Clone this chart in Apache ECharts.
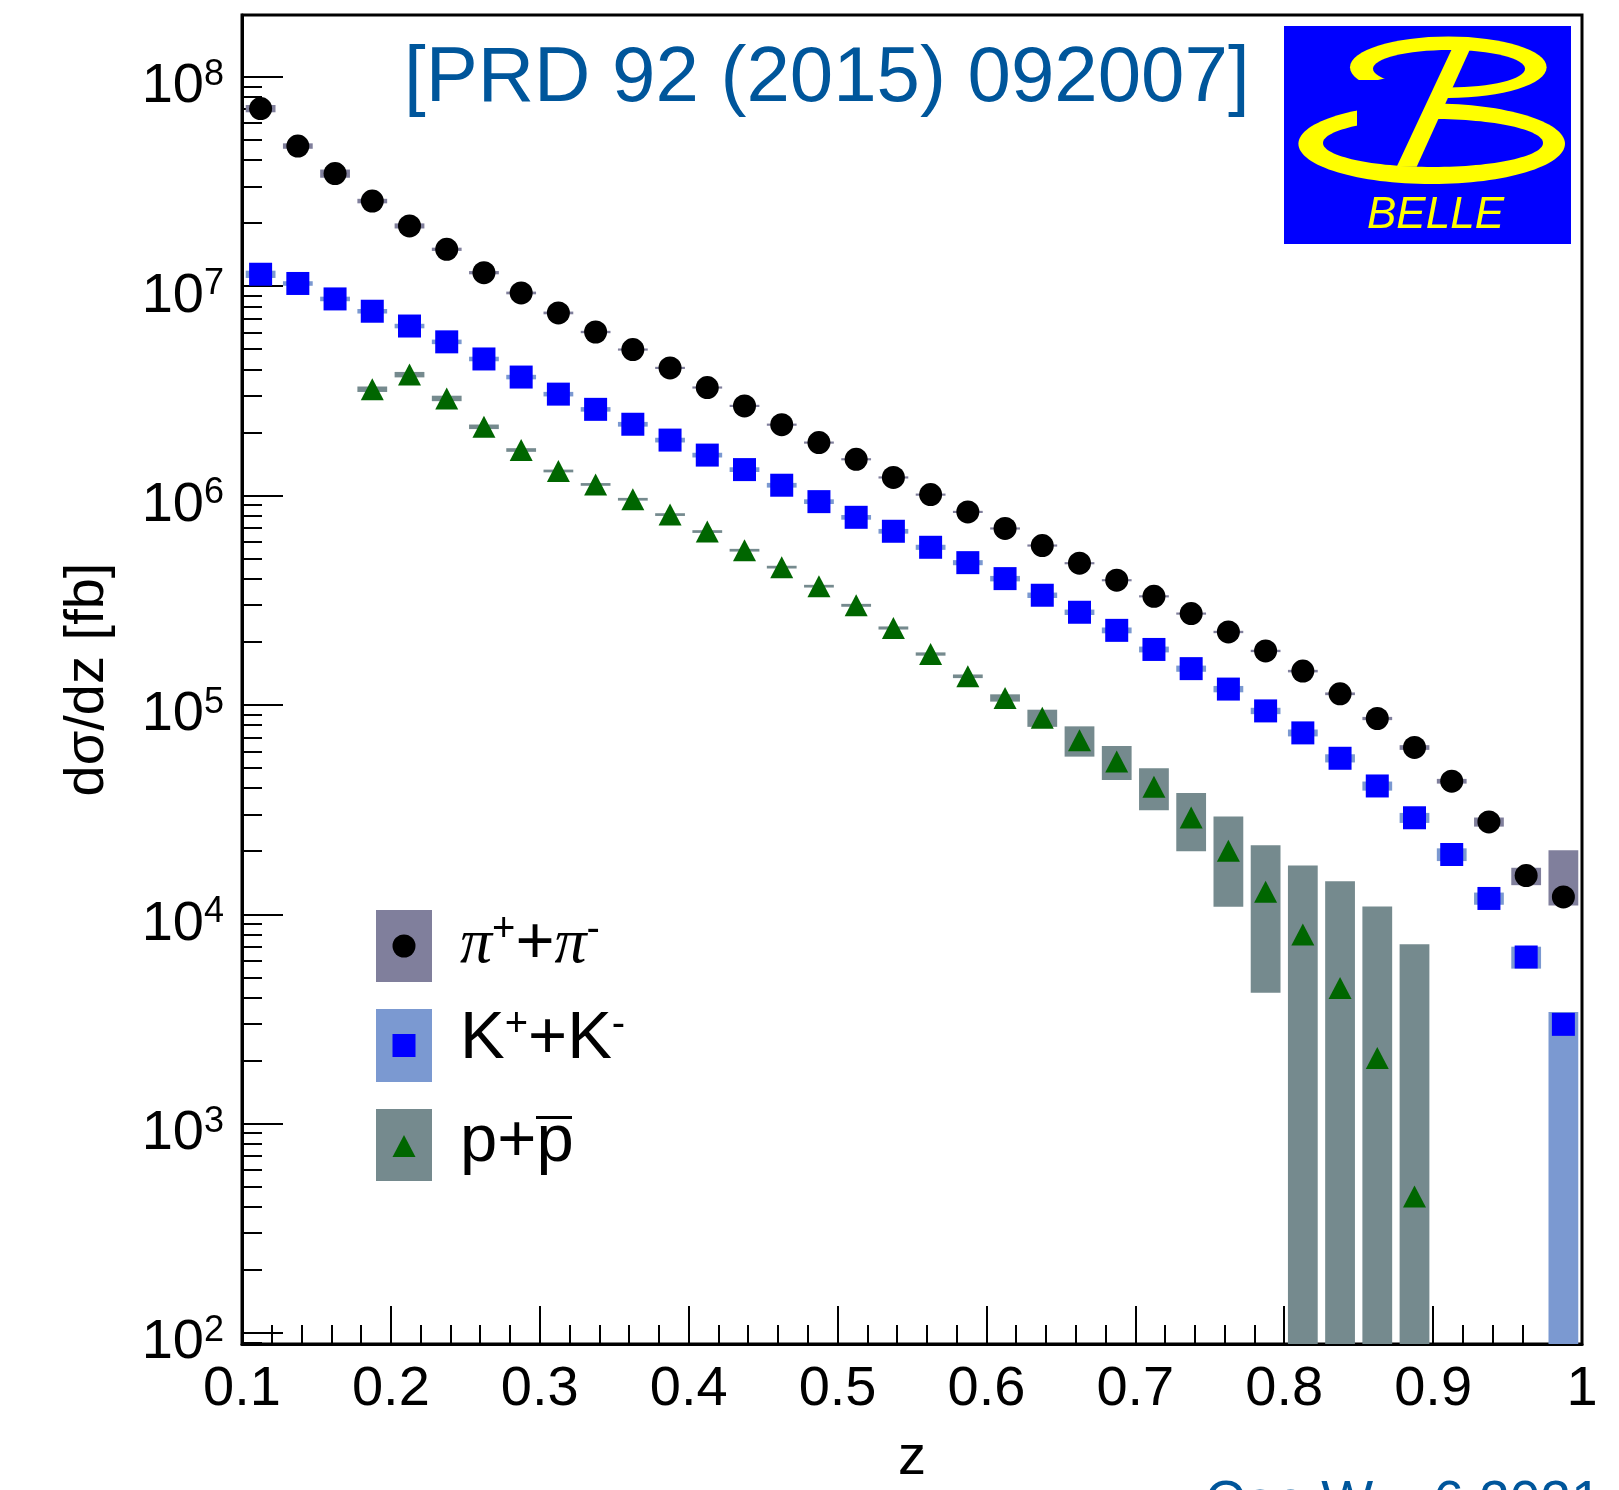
<!DOCTYPE html>
<html>
<head>
<meta charset="utf-8">
<script src="https://cdn.jsdelivr.net/npm/echarts@6/dist/echarts.min.js"></script>
<style>
  html, body { margin: 0; padding: 0; background: #ffffff; }
  #chart { width: 1619px; height: 1490px; }
</style>
</head>
<body>
<div id="chart"></div>
<script>
// z bin centres (bins of width 0.025 from 0.1 to 1.0)
const zBins = [0.1125, 0.1375, 0.1625, 0.1875, 0.2125, 0.2375, 0.2625, 0.2875, 0.3125, 0.3375,
               0.3625, 0.3875, 0.4125, 0.4375, 0.4625, 0.4875, 0.5125, 0.5375, 0.5625, 0.5875,
               0.6125, 0.6375, 0.6625, 0.6875, 0.7125, 0.7375, 0.7625, 0.7875, 0.8125, 0.8375,
               0.8625, 0.8875, 0.9125, 0.9375, 0.9625, 0.9875];

// dσ/dz in fb
const pionXsec = [7.05e7, 4.67e7, 3.45e7, 2.55e7, 1.94e7, 1.50e7, 1.16e7, 9.28e6, 7.45e6, 6.04e6,
                  4.98e6, 4.07e6, 3.28e6, 2.68e6, 2.18e6, 1.79e6, 1.49e6, 1.22e6, 1.01e6, 8.35e5,
                  6.96e5, 5.77e5, 4.75e5, 3.94e5, 3.30e5, 2.73e5, 2.23e5, 1.81e5, 1.45e5, 1.13e5,
                  8.61e4, 6.26e4, 4.32e4, 2.76e4, 1.53e4, 1.21e4];
const kaonXsec = [1.14e7, 1.03e7, 8.69e6, 7.59e6, 6.45e6, 5.42e6, 4.49e6, 3.68e6, 3.05e6, 2.58e6,
                  2.19e6, 1.84e6, 1.56e6, 1.33e6, 1.12e6, 9.35e5, 7.87e5, 6.75e5, 5.66e5, 4.78e5,
                  4.01e5, 3.34e5, 2.77e5, 2.27e5, 1.84e5, 1.49e5, 1.19e5, 9.36e4, 7.35e4, 5.56e4,
                  4.10e4, 2.89e4, 1.93e4, 1.19e4, 6.25e3, 2.98e3];
const protonXsec = [null, null, null, 3.22e6, 3.78e6, 2.91e6, 2.13e6, 1.65e6, 1.31e6, 1.13e6,
                    9.60e5, 8.11e5, 6.73e5, 5.48e5, 4.55e5, 3.69e5, 2.99e5, 2.33e5, 1.75e5, 1.37e5,
                    1.08e5, 8.67e4, 6.78e4, 5.37e4, 4.06e4, 2.90e4, 2.01e4, 1.28e4, 8.0e3, 4.44e3,
                    2.06e3, 449, null, null, null, null];

// systematic uncertainties, relative to the central value (upper / lower)
const pionSysUp = [0.040, 0.030, 0.045, 0.025, 0.028, 0.018, 0.018, 0.015, 0.015, 0.013,
                   0.012, 0.012, 0.012, 0.012, 0.012, 0.012, 0.012, 0.012, 0.012, 0.012,
                   0.012, 0.012, 0.012, 0.012, 0.012, 0.012, 0.013, 0.013, 0.014, 0.015,
                   0.018, 0.026, 0.026, 0.050, 0.090, 0.670];
const pionSysDown = [0.040, 0.030, 0.045, 0.025, 0.028, 0.018, 0.018, 0.015, 0.015, 0.013,
                     0.012, 0.012, 0.012, 0.012, 0.012, 0.012, 0.012, 0.012, 0.012, 0.012,
                     0.012, 0.012, 0.012, 0.012, 0.012, 0.012, 0.013, 0.013, 0.014, 0.015,
                     0.018, 0.026, 0.026, 0.050, 0.100, 0.090];
const kaonSysUp = [0.040, 0.025, 0.025, 0.025, 0.025, 0.025, 0.025, 0.025, 0.025, 0.025,
                   0.026, 0.026, 0.026, 0.026, 0.026, 0.026, 0.026, 0.026, 0.028, 0.028,
                   0.030, 0.030, 0.030, 0.032, 0.032, 0.034, 0.035, 0.035, 0.038, 0.045,
                   0.050, 0.055, 0.070, 0.067, 0.120, 0.145];
const kaonSysDown = [0.040, 0.025, 0.025, 0.025, 0.025, 0.025, 0.025, 0.025, 0.025, 0.025,
                     0.026, 0.026, 0.026, 0.026, 0.026, 0.026, 0.026, 0.026, 0.028, 0.028,
                     0.030, 0.030, 0.030, 0.032, 0.032, 0.034, 0.035, 0.035, 0.038, 0.045,
                     0.050, 0.055, 0.070, 0.067, 0.120, 1.000];
const protonSys = [null, null, null, 0.030, 0.030, 0.030, 0.025, 0.020, 0.015, 0.015,
                   0.015, 0.015, 0.015, 0.015, 0.015, 0.015, 0.016, 0.017, 0.018, 0.020,
                   0.040, 0.094, 0.165, 0.184, 0.227, 0.310, 0.460, 0.670, 1.140, 2.240,
                   4.290, 15.00, null, null, null, null];

// axis ranges and ticks
const xTickLabels = ['0.1', '0.2', '0.3', '0.4', '0.5', '0.6', '0.7', '0.8', '0.9', '1'];
const yDecadeMin = 1.9475;   // log10 of the lower edge of the frame
const yDecadeMax = 8.2951;   // log10 of the upper edge of the frame
const yMinorMantissas = [2, 3, 4, 5, 6, 7, 8, 9];
const yMinorDecades = [1, 2, 3, 4, 5, 6, 7, 8];

const yMin = Math.pow(10, yDecadeMin);
const yMax = Math.pow(10, yDecadeMax);
const minorTickPositions = [];
yMinorDecades.forEach(d => yMinorMantissas.forEach(m => {
  const v = Math.log10(m) + d;
  if (v > yDecadeMin && v < yDecadeMax) minorTickPositions.push(v);
}));

const SYS_HALF_WIDTH = 0.01;   // half width of a systematic box in z
const FONT = 'Liberation Sans';

const colors = {
  pion: '#000000', pionBox: '#807f9c',
  kaon: '#0000ff', kaonBox: '#7b99d1',
  proton: '#006600', protonBox: '#758a8e'
};

function pointData(vals) {
  const out = [];
  zBins.forEach((z, i) => { if (vals[i] != null) out.push([z, vals[i]]); });
  return out;
}
function boxData(vals, up, down) {
  const out = [];
  zBins.forEach((z, i) => {
    if (vals[i] != null) out.push([z, vals[i], vals[i] * up[i], vals[i] * down[i]]);
  });
  return out;
}
function boxSeries(data, color) {
  return {
    type: 'custom',
    data: data,
    silent: true,
    z: 1,
    encode: { x: 0, y: 1 },
    renderItem: function (params, api) {
      const z = api.value(0), v = api.value(1), up = api.value(2), dn = api.value(3);
      const cs = params.coordSys;
      const topLeft = api.coord([z - SYS_HALF_WIDTH, v + up]);
      const right = api.coord([z + SYS_HALF_WIDTH, v])[0];
      const lo = v - dn;
      const bottom = lo > yMin ? api.coord([z, lo])[1] : cs.y + cs.height;
      let y0 = Math.max(topLeft[1], cs.y);
      let h = bottom - y0;
      if (h < 2) { y0 -= (2 - h) / 2; h = 2; }
      return {
        type: 'rect',
        shape: { x: topLeft[0], y: y0, width: right - topLeft[0], height: h },
        style: { fill: color, opacity: 1 }
      };
    }
  };
}

const chart = echarts.init(document.getElementById('chart'), null, { renderer: 'canvas' });

const legendRich = {
  n:  { fontSize: 67, fontFamily: FONT, lineHeight: 70, fill: '#000' },
  pi: { fontSize: 64, fontFamily: 'Liberation Serif', fontStyle: 'italic', lineHeight: 70, fill: '#000' },
  sp: { fontSize: 40, fontFamily: FONT, lineHeight: 36, verticalAlign: 'top', fill: '#000' },
  sm: { fontSize: 40, fontFamily: FONT, lineHeight: 14, verticalAlign: 'top', fill: '#000' }
};

const option = {
  backgroundColor: '#ffffff',
  animation: false,
  grid: {
    left: 242, top: 15, width: 1340, height: 1329,
    show: true, borderColor: '#000', borderWidth: 3, backgroundColor: 'transparent',
    containLabel: false, outerBoundsMode: 'none'
  },
  xAxis: {
    type: 'value', min: 0.1, max: 1.0, interval: 0.1, position: 'bottom',
    name: 'z', nameLocation: 'middle', nameGap: 87, nameMoveOverlap: false,
    nameTextStyle: { fontSize: 56, fontFamily: FONT, color: '#000', lineHeight: 56 },
    axisLine: { show: true, lineStyle: { color: '#000', width: 3 } },
    axisTick: { show: true, inside: true, length: 38, lineStyle: { color: '#000', width: 2 } },
    minorTick: { show: true, splitNumber: 5, length: 19, lineStyle: { color: '#000', width: 2 } },
    axisLabel: {
      fontSize: 56, fontFamily: FONT, color: '#000', margin: 18, lineHeight: 56,
      formatter: v => xTickLabels[Math.round(v * 10) - 1] || ''
    },
    splitLine: { show: false }
  },
  yAxis: [
    {
      type: 'log', logBase: 10, min: yMin, max: yMax, position: 'left',
      name: 'dσ/dz [fb]', nameLocation: 'middle', nameGap: 124, nameRotate: 90, nameMoveOverlap: false,
      nameTextStyle: { fontSize: 56, fontFamily: FONT, color: '#000', lineHeight: 60 },
      axisLine: { show: true, lineStyle: { color: '#000', width: 3 } },
      axisTick: { show: true, inside: true, length: 41, lineStyle: { color: '#000', width: 2 } },
      axisLabel: {
        margin: 18, padding: [20, 0, 0, 0],
        formatter: function (v) {
          const l = Math.log10(v), e = Math.round(l);
          if (Math.abs(l - e) > 1e-6) return '';
          return '{b|10}{s|' + e + '}';
        },
        rich: {
          b: { fontSize: 56, fontFamily: FONT, color: '#000', lineHeight: 60 },
          s: { fontSize: 36, fontFamily: FONT, color: '#000', lineHeight: 28, verticalAlign: 'top' }
        }
      },
      splitLine: { show: false },
      minorTick: { show: false }
    },
    {
      // minor decade ticks (2..9 × 10^n) on a companion axis in log10 units
      type: 'value', min: yDecadeMin, max: yDecadeMax, position: 'left',
      axisLine: { show: false },
      axisLabel: { show: false },
      splitLine: { show: false },
      axisTick: {
        show: true, inside: true, length: 20, customValues: minorTickPositions,
        lineStyle: { color: '#000', width: 2 }
      }
    }
  ],
  series: [
    boxSeries(boxData(protonXsec, protonSys, protonSys), colors.protonBox),
    boxSeries(boxData(kaonXsec, kaonSysUp, kaonSysDown), colors.kaonBox),
    boxSeries(boxData(pionXsec, pionSysUp, pionSysDown), colors.pionBox),
    {
      name: 'π⁺+π⁻', type: 'scatter', data: pointData(pionXsec), z: 3, silent: true,
      symbol: 'circle', symbolSize: 23, itemStyle: { color: colors.pion, opacity: 1 }
    },
    {
      name: 'K⁺+K⁻', type: 'scatter', data: pointData(kaonXsec), z: 3, silent: true,
      symbol: 'rect', symbolSize: 23, itemStyle: { color: colors.kaon, opacity: 1 }
    },
    {
      name: 'p+p̄', type: 'scatter', data: pointData(protonXsec), z: 3, silent: true,
      symbol: 'triangle', symbolSize: [23, 22], itemStyle: { color: colors.proton, opacity: 1 }
    }
  ],
  graphic: {
    elements: [
      // publication reference
      {
        type: 'text', x: 404, y: 79, z: 10,
        style: {
          text: '[PRD 92 (2015) 092007]', fill: '#00569b',
          fontSize: 78, fontFamily: FONT,
          align: 'left', verticalAlign: 'middle', textAlign: 'left', textVerticalAlign: 'middle'
        }
      },
      // Belle logo
      { type: 'rect', z: 10, shape: { x: 1284, y: 26, width: 287, height: 218 }, style: { fill: '#0000ff' } },
      { type: 'ellipse', z: 11, shape: { cx: 1431.7, cy: 143.7, rx: 133.3, ry: 40.3 }, style: { fill: '#ffff00' } },
      { type: 'ellipse', z: 12, shape: { cx: 1433, cy: 143, rx: 110, ry: 24 }, style: { fill: '#0000ff' } },
      { type: 'polygon', z: 13, shape: { points: [[1357, 98], [1434, 96], [1434, 132], [1357, 132]] }, style: { fill: '#0000ff' } },
      { type: 'ellipse', z: 11, shape: { cx: 1448.3, cy: 67.3, rx: 98.3, ry: 30.7 }, style: { fill: '#ffff00' } },
      { type: 'ellipse', z: 12, shape: { cx: 1449, cy: 68.7, rx: 76, ry: 18.7 }, style: { fill: '#0000ff' } },
      { type: 'polygon', z: 13, shape: { points: [[1340, 80], [1378, 80], [1400, 75], [1446, 84], [1446, 101], [1340, 101]] }, style: { fill: '#0000ff' } },
      { type: 'polygon', z: 14, shape: { points: [[1451.7, 49.3], [1470, 49.3], [1416.7, 166.7], [1396.7, 166.7]] }, style: { fill: '#ffff00' } },
      {
        type: 'text', x: 1367, y: 216, z: 14,
        style: {
          text: 'BELLE', fill: '#ffff00', fontSize: 44, fontFamily: FONT, fontStyle: 'italic',
          align: 'left', verticalAlign: 'middle', textAlign: 'left', textVerticalAlign: 'middle'
        }
      },
      // legend
      { type: 'rect', z: 10, shape: { x: 376, y: 910, width: 56, height: 72 }, style: { fill: colors.pionBox } },
      { type: 'circle', z: 11, shape: { cx: 404, cy: 946, r: 11.5 }, style: { fill: colors.pion } },
      { type: 'rect', z: 10, shape: { x: 376, y: 1009, width: 56, height: 73 }, style: { fill: colors.kaonBox } },
      { type: 'rect', z: 11, shape: { x: 392.5, y: 1034, width: 23, height: 23 }, style: { fill: colors.kaon } },
      { type: 'rect', z: 10, shape: { x: 376, y: 1109, width: 56, height: 72 }, style: { fill: colors.protonBox } },
      { type: 'polygon', z: 11, shape: { points: [[404, 1135], [415.5, 1157], [392.5, 1157]] }, style: { fill: colors.proton } },
      {
        type: 'text', x: 460, y: 945, z: 11,
        style: {
          text: '{pi|π}{sp|+}{n|+}{pi|π}{sm|-}', rich: legendRich,
          align: 'left', verticalAlign: 'middle', textAlign: 'left', textVerticalAlign: 'middle'
        }
      },
      {
        type: 'text', x: 460, y: 1040, z: 11,
        style: {
          text: '{n|K}{sp|+}{n|+K}{sm|-}', rich: legendRich,
          align: 'left', verticalAlign: 'middle', textAlign: 'left', textVerticalAlign: 'middle'
        }
      },
      {
        type: 'text', x: 460, y: 1143, z: 11,
        style: {
          text: '{n|p+p}', rich: legendRich,
          align: 'left', verticalAlign: 'middle', textAlign: 'left', textVerticalAlign: 'middle'
        }
      },
      { type: 'line', z: 11, shape: { x1: 536, y1: 1117.5, x2: 572, y2: 1117.5 }, style: { stroke: '#000', lineWidth: 3 } },
      // credit line along the lower edge
      {
        type: 'text', x: 1205, y: 1504, z: 10,
        style: {
          text: 'Cao Wu, 6 2021', fill: '#00569b', fontSize: 55, fontFamily: FONT,
          align: 'left', verticalAlign: 'middle', textAlign: 'left', textVerticalAlign: 'middle'
        }
      }
    ]
  }
};

chart.setOption(option);
</script>
</body>
</html>
